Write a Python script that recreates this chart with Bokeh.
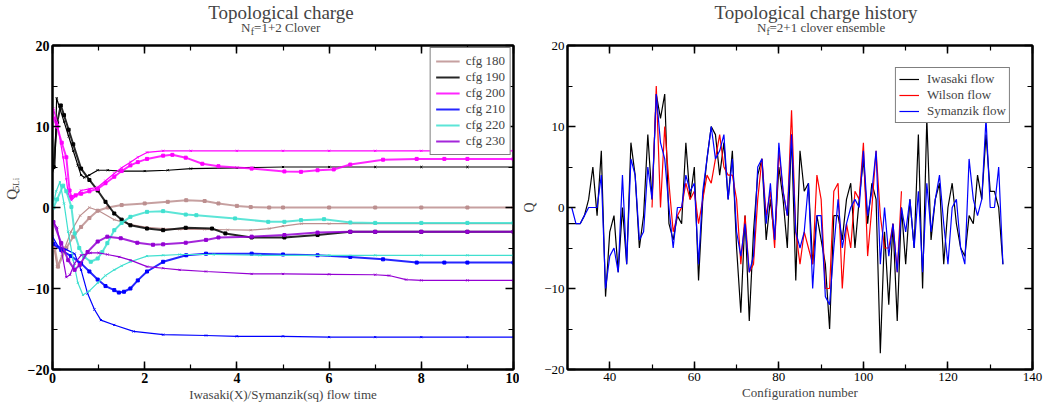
import math
from bokeh.plotting import figure
from bokeh.models import (Range1d, LinearAxis, SingleIntervalTicker, Label, Legend, LegendItem,
                          CustomJSTickFormatter)
from bokeh.layouts import row, column
from bokeh.embed import file_html
from bokeh.resources import INLINE

FONT = "Liberation Serif"

# ---------------- left panel data: flow time vs Q ----------------
cfg_labels = ["cfg 180", "cfg 190", "cfg 200", "cfg 210", "cfg 220", "cfg 230"]
cfg_colors = ["#bc8f8f", "#000000", "#ff00ff", "#0000ff", "#40e0d0", "#9400d3"]

# Iwasaki (X) curves
t180x = [0.02, 0.1, 0.2, 0.4, 0.6, 0.8, 1.0, 1.34, 1.7, 2.05, 2.4, 2.76, 3.3, 3.8, 4.3, 4.7, 5.0, 5.4, 6, 7, 8, 9, 10]
q180x = [-4.5, -7.3, -6.0, -3.0, -1.0, 0.0, -0.4, -1.5, -2.1, -2.45, -2.6, -2.7, -2.7, -2.75, -2.8, -2.6, -2.3, -2.0, -2.0, -2.0, -2.0, -2.0, -2.0]
t190x = [0.0, 0.05, 0.09, 0.15, 0.25, 0.35, 0.45, 0.55, 0.62, 0.69, 0.8, 0.98, 1.2, 1.5, 2.0, 2.5, 3, 4, 5, 6, 7, 8, 9, 10]
q190x = [4.5, 5.0, 13.5, 12.4, 10.6, 8.8, 7.0, 5.2, 4.0, 3.7, 4.0, 4.6, 4.6, 4.5, 4.5, 4.6, 4.8, 4.9, 5.0, 5.0, 5.0, 5.0, 5.0, 5.0]
t200x = [0.0, 0.02, 0.1, 0.23, 0.3, 0.34, 0.41, 0.5, 0.62, 0.8, 0.98, 1.15, 1.34, 1.5, 1.69, 1.85, 2.05, 2.4, 3, 4, 5, 6, 7, 8, 9, 10]
q200x = [11.5, 12.2, 10.5, 6.2, 3.5, 1.7, 0.9, 1.4, 2.1, 2.3, 2.5, 3.3, 4.2, 4.9, 5.6, 6.2, 6.8, 7.0, 7.0, 7.0, 7.0, 7.0, 7.0, 7.0, 7.0, 7.0]
t210x = [0.0, 0.12, 0.3, 0.48, 0.62, 0.76, 0.91, 1.05, 1.34, 1.76, 2.4, 3.33, 4, 5, 6, 7, 8, 9, 10]
q210x = [-3.6, -4.8, -5.2, -5.7, -7.7, -10.6, -12.6, -13.9, -14.5, -15.3, -15.7, -15.8, -15.9, -15.9, -16.0, -16.0, -16.0, -16.0, -16.0]
t220x = [0.0, 0.08, 0.16, 0.25, 0.34, 0.45, 0.55, 0.66, 0.8, 0.98, 1.15, 1.34, 1.5, 1.69, 2.05, 2.4, 2.76, 3.5, 4.5, 6, 7, 8, 9, 10]
q220x = [0.0, 2.0, 3.15, 0.5, -3.0, -6.5, -9.3, -10.8, -10.3, -9.3, -8.4, -7.7, -7.2, -6.7, -6.0, -5.9, -5.8, -5.8, -5.9, -5.9, -5.9, -5.9, -5.9, -5.9]
t230x = [0.02, 0.1, 0.2, 0.3, 0.38, 0.48, 0.62, 0.83, 1.0, 1.19, 1.45, 1.69, 2.05, 2.4, 2.76, 3.33, 4.32, 5, 6, 7, 7.3, 7.67, 8, 9, 10]
q230x = [-1.8, -2.5, -5.5, -8.6, -8.3, -6.9, -5.9, -5.6, -5.6, -5.8, -6.1, -6.5, -7.3, -7.5, -7.7, -7.9, -8.2, -8.2, -8.25, -8.3, -8.4, -8.9, -9.0, -9.0, -9.0]

# Symanzik (sq) curves
t180s = [0.05, 0.12, 0.3, 0.45, 0.62, 0.8, 0.98, 1.2, 1.5, 2.0, 2.5, 2.9, 3.3, 3.6, 4.0, 4.3, 4.7, 5, 6, 7, 8, 9, 10]
q180s = [-5.0, -7.3, -5.0, -3.6, -2.4, -1.3, -0.4, 0.0, 0.3, 0.5, 0.7, 0.9, 0.8, 0.5, 0.2, 0.05, 0.0, 0.0, 0.0, 0.0, 0.0, 0.0, 0.0]
t190s = [0.02, 0.1, 0.18, 0.25, 0.35, 0.45, 0.62, 0.8, 0.98, 1.15, 1.34, 1.5, 1.69, 2.05, 2.4, 2.89, 3.46, 3.75, 4.32, 5.03, 5.75, 6.46, 7, 8, 9, 10]
q190s = [5.0, 10.5, 12.6, 11.4, 9.6, 7.8, 4.8, 3.4, 2.1, 0.7, -0.74, -1.5, -2.2, -2.6, -2.8, -2.5, -2.6, -3.2, -3.7, -3.7, -3.4, -3.0, -3.0, -3.0, -3.0, -3.0]
t200s = [0.02, 0.1, 0.2, 0.3, 0.37, 0.41, 0.5, 0.62, 0.8, 0.98, 1.15, 1.34, 1.5, 1.69, 1.85, 2.05, 2.4, 2.6, 2.89, 3.25, 3.6, 4.32, 5.03, 5.39, 5.75, 6.1, 6.46, 7.17, 7.9, 8.5, 9, 10]
q200s = [11.0, 10.0, 8.0, 6.2, 2.1, 1.3, 1.5, 1.7, 2.0, 2.3, 3.0, 3.8, 4.5, 5.2, 5.6, 6.0, 6.4, 6.5, 6.15, 5.4, 5.1, 4.8, 4.45, 4.4, 4.6, 4.7, 5.3, 5.9, 6.0, 6.0, 6.0, 6.0]
t210s = [0.02, 0.19, 0.4, 0.62, 0.8, 0.98, 1.15, 1.34, 1.44, 1.55, 1.69, 1.85, 2.05, 2.4, 2.9, 3.33, 4.32, 5, 5.75, 6.46, 7.17, 7.9, 8.5, 9, 10]
q210s = [-4.5, -5.25, -6.0, -6.9, -7.9, -8.9, -9.7, -10.2, -10.5, -10.4, -10.0, -9.0, -7.9, -6.7, -5.9, -5.7, -5.7, -5.8, -5.9, -6.1, -6.4, -6.8, -6.8, -6.8, -6.8]
t220s = [0.02, 0.1, 0.23, 0.3, 0.41, 0.48, 0.58, 0.69, 0.83, 0.98, 1.08, 1.19, 1.34, 1.5, 1.69, 2.05, 2.4, 2.89, 3.12, 3.96, 4.68, 5.03, 5.39, 5.89, 6.46, 7, 8, 9, 10]
q220s = [0.0, 1.0, 2.7, 2.0, 0.07, -3.2, -5.0, -6.1, -6.7, -6.3, -5.5, -4.4, -2.8, -1.9, -1.15, -0.54, -0.45, -0.87, -0.95, -1.35, -1.77, -1.77, -1.56, -1.44, -1.85, -1.9, -1.9, -1.9, -1.9]
t230s = [0.02, 0.19, 0.34, 0.48, 0.59, 0.76, 0.98, 1.19, 1.48, 1.84, 2.18, 2.4, 2.89, 3.33, 3.6, 4.32, 5.03, 5.75, 6.46, 7, 8, 9, 10]
q230s = [-1.8, -4.4, -6.5, -7.7, -7.1, -5.5, -4.2, -3.6, -3.8, -4.35, -4.6, -4.55, -4.35, -4.0, -3.7, -3.6, -3.4, -3.1, -3.0, -3.0, -3.0, -3.0, -3.0]

# ---------------- right panel data: charge history ----------------
config_iw = list(range(30, 134))
q_iwasaki = [-2, -2, -2, -2, -1, 1, 5, -1, 7, -11,
             -3, -1, -8, 0, -7, 8, 4, -5, -1, 9,
             1, 14, 11, 14, -2, -4, -1, -2, 8, 1,
             5, -9, 1, 6, 10, 9, 4, 8, 1, 7,
             -5, -13, -1, -14, -3, 4, 6, -4, 1, -4,
             5, 1, -5, 9, -9, 7, 2, 3, -7, -1,
             -4, -7, -15, -1, -1, -4, 1, 3, -5, 1,
             6, -2, 3, 1, -18, -3, -12, -2, -14, 0,
             -7, 1, -5, 9, -10, 11, -4, 1, 3, -7,
             0, 3, -2, -5, -6, -1, -2, 4, 1, 9,
             2, 2, 0, -7]
config_wi = list(range(50, 110))
q_wilson = [0, 15, 0, 10, 3, -3, -1, 0, 3, 1,
            2, -2, 1, 4, 3, 6, 9, 5, 4, 4,
            1, -7, -1, -8, -7, 1, 6, -1, 2, -5,
            7, 2, -1, 12, -3, -7, -3, -5, -7, 4,
            1, -10, -10, 2, 3, -10, -2, -5, 2, 1,
            8, -6, 0, 7, -1, -5, -5, -2, -8, 2]
config_sy = list(range(30, 134))
q_symanzik = [0, 0, -2, -2, -1, 0, 0, 0, 4, -10,
              -6, -5, -8, 4, -7, 6, 4, -4, -3, 5,
              1, 14, 8, 6, 0, -5, 0, 0, 4, 2,
              3, -7, 2, 6, 10, 6, 7, 9, 1, 6,
              -3, -6, -2, -8, -6, 5, 6, -2, 3, -4,
              8, 2, -1, 9, -3, -5, -3, 3, -10, -1,
              -1, -11, -12, -5, 1, -5, -2, 0, 1, 0,
              7, -1, 2, 7, -7, 0, -6, -2, -8, 0,
              -3, 1, -5, 2, -8, 3, -3, 1, 4, -2,
              -7, 0, 1, -5, -7, 6, 1, -1, 1, 11,
              0, 0, 5, -7]
hist_labels = ["Iwasaki flow", "Wilson flow", "Symanzik flow"]
hist_colors = ["#000000", "#ff0000", "#0000ff"]

iw_t = [t180x, t190x, t200x, t210x, t220x, t230x]
iw_q = [q180x, q190x, q200x, q210x, q220x, q230x]
sy_t = [t180s, t190s, t200s, t210s, t220s, t230s]
sy_q = [q180s, q190s, q200s, q210s, q220s, q230s]

TITLE_H = 36
PLOT_H = 410 - TITLE_H


def blank_fig(w, h):
    f = figure(width=w, height=h, x_range=Range1d(0, w), y_range=Range1d(0, h),
               output_backend="svg", toolbar_location=None,
               min_border_left=0, min_border_right=0, min_border_top=0, min_border_bottom=0)
    f.axis.visible = False
    f.grid.visible = False
    f.outline_line_color = None
    return f


def style_frame(p, xint, yint, bold, xlabel, ylabel):
    p.xgrid.visible = False
    p.ygrid.visible = False
    p.outline_line_color = "black"
    p.outline_line_width = 2
    xt = SingleIntervalTicker(interval=xint, num_minor_ticks=2)
    yt = SingleIntervalTicker(interval=yint, num_minor_ticks=2)
    bottom = p.below[0]
    left = p.left[0]
    bottom.ticker = xt
    left.ticker = yt
    bottom.axis_label = xlabel
    left.axis_label = ylabel
    for ax in (bottom, left):
        ax.major_tick_in = 8
        ax.major_tick_out = 0
        ax.minor_tick_in = 5
        ax.minor_tick_out = 0
        ax.major_tick_line_width = 1.5
        ax.minor_tick_line_width = 1.2
        ax.axis_line_width = 2
        ax.major_label_text_font = FONT
        ax.major_label_text_font_size = "14px" if bold else "13px"
        ax.major_label_text_font_style = "bold" if bold else "normal"
        ax.major_label_text_color = "black"
        ax.major_label_standoff = 3
        ax.axis_label_text_font = FONT
        ax.axis_label_text_font_size = "13px"
        ax.axis_label_text_font_style = "normal"
        ax.axis_label_standoff = 1
    left.axis_label_text_font_size = "14px"
    left.axis_label_standoff = 4
    blank = CustomJSTickFormatter(code="return ''")
    for tick, place in ((xt, "above"), (yt, "right")):
        ax = LinearAxis(ticker=tick, formatter=blank, major_label_text_font_size="6px",
                        major_label_standoff=0,
                        major_tick_in=8, major_tick_out=0, minor_tick_in=5, minor_tick_out=0,
                        major_tick_line_width=1.5, minor_tick_line_width=1.2, axis_line_width=2)
        p.add_layout(ax, place)


def titles(f, cx, title, xn, rest):
    f.add_layout(Label(x=cx, y=24, text=title, text_align="center", text_baseline="middle",
                       text_font=FONT, text_font_size="19px"))
    f.add_layout(Label(x=xn, y=9, text="N", text_align="right", text_baseline="middle",
                       text_font=FONT, text_font_size="13px"))
    f.add_layout(Label(x=xn + 0.3, y=5, text="f", text_align="left", text_baseline="middle",
                       text_font=FONT, text_font_size="10px"))
    f.add_layout(Label(x=xn + 3.6, y=9, text=rest, text_align="left", text_baseline="middle",
                       text_font=FONT, text_font_size="13px"))


# ---------------- left panel ----------------
t1 = blank_fig(519, TITLE_H)
titles(t1, 280.5, "Topological charge", 250, "=1+2 Clover")

ylab = blank_fig(24, PLOT_H)
ylab.add_layout(Label(x=11, y=196, text="Q", angle=math.pi / 2, text_align="left",
                      text_baseline="middle", text_font=FONT, text_font_size="15px"))
ylab.add_layout(Label(x=15, y=207, text="5Li", angle=math.pi / 2, text_align="left",
                      text_baseline="middle", text_font=FONT, text_font_size="9px"))

p1 = figure(width=495, height=PLOT_H, x_range=Range1d(0, 10), y_range=Range1d(-20, 20),
            output_backend="svg", toolbar_location=None,
            min_border_left=24, min_border_right=6, min_border_top=9, min_border_bottom=41)
style_frame(p1, 2, 10, True, "Iwasaki(X)/Symanzik(sq) flow time", None)

items = []
for lab, col, tx, qx, ts, qs in zip(cfg_labels, cfg_colors, iw_t, iw_q, sy_t, sy_q):
    p1.line(tx, qx, line_color=col, line_width=1.2)
    p1.scatter(tx, qx, marker="x", size=3, line_color=col, line_width=1)
    rl = p1.line(ts, qs, line_color=col, line_width=2, line_alpha=0.85)
    p1.scatter(ts, qs, marker="square", size=3, fill_color=col, line_color=col)
    items.append(LegendItem(label=lab, renderers=[rl]))

leg1 = Legend(items=items, location="top_right", label_text_font=FONT, label_text_font_size="13px",
              glyph_width=24, glyph_height=16, label_height=16, spacing=0, padding=5, margin=2,
              label_standoff=6, border_line_color="black", border_line_width=1,
              background_fill_alpha=1.0)
p1.add_layout(leg1)

# ---------------- right panel ----------------
t2 = blank_fig(524, TITLE_H)
titles(t2, 280, "Topological charge history", 224, "=2+1 clover ensemble")

p2 = figure(width=524, height=PLOT_H, x_range=Range1d(30, 140), y_range=Range1d(-20, 20),
            output_backend="svg", toolbar_location=None,
            min_border_left=47, min_border_right=11, min_border_top=9, min_border_bottom=41)
style_frame(p2, 20, 10, False, "Configuration number", "Q")

r_iw = p2.line(config_iw, q_iwasaki, line_color=hist_colors[0], line_width=1.2)
r_wi = p2.line(config_wi, q_wilson, line_color=hist_colors[1], line_width=1.2)
r_sy = p2.line(config_sy, q_symanzik, line_color=hist_colors[2], line_width=1.2)
leg2 = Legend(items=[LegendItem(label=hist_labels[0], renderers=[r_iw]),
                     LegendItem(label=hist_labels[1], renderers=[r_wi]),
                     LegendItem(label=hist_labels[2], renderers=[r_sy])],
              location="top_right", label_text_font=FONT, label_text_font_size="13px",
              glyph_width=20, glyph_height=14, label_height=14, spacing=0, padding=3, margin=22,
              label_standoff=8, border_line_color="black", border_line_width=1,
              background_fill_alpha=1.0)
p2.add_layout(leg2)

layout = row(column(t1, row(ylab, p1, spacing=0), spacing=0),
             column(t2, p2, spacing=0), spacing=0)
open("out.html", "w").write(file_html(layout, INLINE))
